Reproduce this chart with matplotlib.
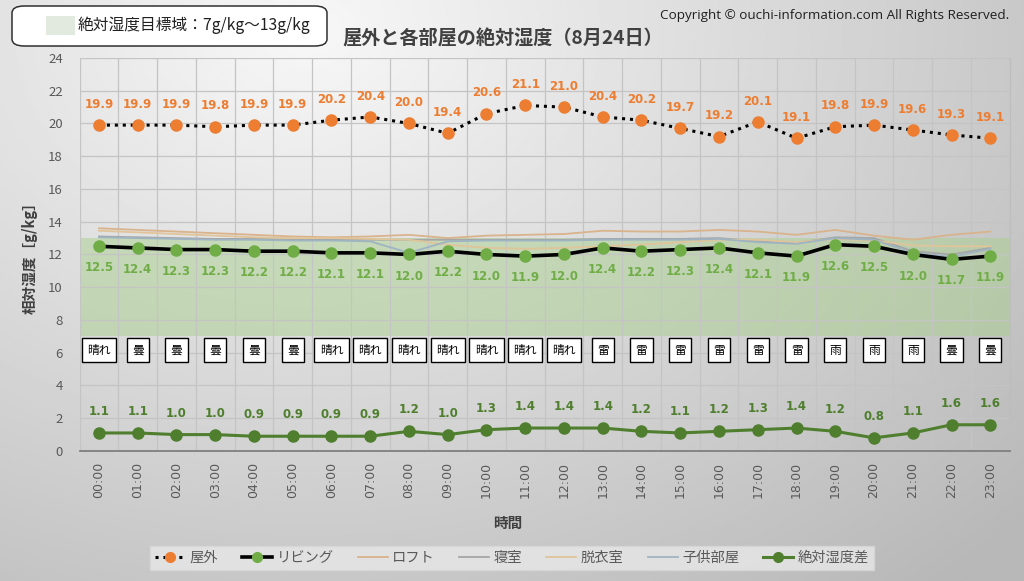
import matplotlib
matplotlib.use("Agg")
import matplotlib.pyplot as plt
from matplotlib.patches import FancyBboxPatch, Rectangle
from matplotlib.lines import Line2D
import numpy as np

plt.rcParams['font.family'] = ['Noto Sans CJK JP', 'DejaVu Sans']

# data
hours = ["%02d:00" % h for h in range(24)]
outdoor = [19.9, 19.9, 19.9, 19.8, 19.9, 19.9, 20.2, 20.4, 20.0, 19.4, 20.6, 21.1,
           21.0, 20.4, 20.2, 19.7, 19.2, 20.1, 19.1, 19.8, 19.9, 19.6, 19.3, 19.1]
living = [12.5, 12.4, 12.3, 12.3, 12.2, 12.2, 12.1, 12.1, 12.0, 12.2, 12.0, 11.9,
          12.0, 12.4, 12.2, 12.3, 12.4, 12.1, 11.9, 12.6, 12.5, 12.0, 11.7, 11.9]
loft = [13.6, 13.5, 13.4, 13.3, 13.2, 13.1, 13.05, 13.1, 13.2, 13.0, 13.15, 13.2,
        13.25, 13.45, 13.4, 13.4, 13.5, 13.4, 13.2, 13.5, 13.15, 12.9, 13.2, 13.4]
bedroom = [13.1, 13.05, 13.0, 12.95, 12.95, 12.9, 12.9, 12.9, 12.9, 12.9, 12.9, 12.9,
           12.9, 12.95, 12.95, 12.95, 13.0, 12.8, 12.7, 13.05, 13.0, 12.2, 12.0, 12.4]
dressing = [13.45, 13.35, 13.25, 13.15, 13.05, 13.0, 13.0, 12.95, 12.9, 12.6, 12.4, 12.35,
            12.4, 12.5, 12.6, 12.75, 12.9, 12.9, 12.75, 12.95, 12.85, 12.55, 12.5, 12.5]
kids = [13.05, 13.0, 12.95, 12.9, 12.9, 12.85, 12.85, 12.8, 12.1, 12.8, 12.85, 12.85,
        12.85, 12.9, 12.9, 12.9, 12.95, 12.75, 12.65, 13.0, 12.9, 12.1, 11.85, 12.35]
diff = [1.1, 1.1, 1.0, 1.0, 0.9, 0.9, 0.9, 0.9, 1.2, 1.0, 1.3, 1.4,
        1.4, 1.4, 1.2, 1.1, 1.2, 1.3, 1.4, 1.2, 0.8, 1.1, 1.6, 1.6]
weather = ["晴れ", "曇", "曇", "曇", "曇", "曇", "晴れ", "晴れ", "晴れ", "晴れ", "晴れ", "晴れ",
           "晴れ", "雷", "雷", "雷", "雷", "雷", "雷", "雨", "雨", "雨", "曇", "曇"]

ORANGE = '#ED7D31'
GREEN = '#70AD47'
DKGREEN = '#4F7F2E'
TAN = '#D9B38C'
TAN2 = '#E0C49A'
GRAY = '#A6A6A6'
BLUEGRAY = '#9FB4C2'

fig = plt.figure(figsize=(10.24, 5.81), dpi=100)

# gradient background
bg = fig.add_axes([0, 0, 1, 1], zorder=-10)
yy, xx = np.mgrid[0:1:300j, 0:1:500j]
r = np.sqrt(((xx - 0.3) * 1.2) ** 2 + ((yy - 0.05) * 0.9) ** 2)
shade = np.clip(0.97 - 0.22 * r, 0.72, 0.97)
bg.imshow(shade, cmap='gray', vmin=0, vmax=1, aspect='auto', extent=[0, 1, 1, 0])
bg.set_xlim(0, 1)
bg.set_ylim(1, 0)
bg.axis('off')

ax = fig.add_axes([0.0777, 0.2238, 0.9083, 0.6764])
ax.set_facecolor('none')
x = np.arange(len(hours))

ax.axhspan(7, 13, color='#A9D08E', alpha=0.5, lw=0, zorder=1)

ax.plot(x, loft, color=TAN, lw=1.3, zorder=2)
ax.plot(x, bedroom, color=GRAY, lw=1.3, zorder=2)
ax.plot(x, dressing, color=TAN2, lw=1.3, zorder=2)
ax.plot(x, kids, color=BLUEGRAY, lw=1.3, zorder=2)

ax.plot(x, outdoor, color='black', ls=(0, (1, 1.6)), lw=2.2, marker='o', ms=8,
        mfc=ORANGE, mec=ORANGE, zorder=4)
ax.plot(x, living, color='black', lw=2.6, marker='o', ms=8,
        mfc=GREEN, mec=GREEN, zorder=4)
ax.plot(x, diff, color=DKGREEN, lw=2.2, marker='o', ms=8,
        mfc=DKGREEN, mec=DKGREEN, zorder=4)

for i in x:
    ax.annotate(f"{outdoor[i]:.1f}", (i, outdoor[i]), xytext=(0, 15), textcoords='offset points',
                ha='center', va='center', color=ORANGE, fontsize=8.5, fontweight='bold',
                family='DejaVu Sans')
    ax.annotate(f"{living[i]:.1f}", (i, living[i]), xytext=(0, -15.5), textcoords='offset points',
                ha='center', va='center', color=GREEN, fontsize=8.5, fontweight='bold',
                family='DejaVu Sans')
    ax.annotate(f"{diff[i]:.1f}", (i, diff[i]), xytext=(0, 15.5), textcoords='offset points',
                ha='center', va='center', color=DKGREEN, fontsize=8.5, fontweight='bold',
                family='DejaVu Sans')
    ax.text(i, 6.15, weather[i], ha='center', va='center', fontsize=8.5, zorder=6,
            bbox=dict(boxstyle='square,pad=0.45', fc='white', ec='black', lw=1))

ax.set_xlim(-0.5, len(hours) - 0.5)
ax.set_ylim(0, 24)
ax.set_yticks(range(0, 25, 2))
ax.set_xticks(x)
ax.set_xticklabels(hours, rotation=90, family='DejaVu Sans')
ax.tick_params(axis='x', length=0, pad=8, labelsize=9, labelcolor='#595959')
ax.tick_params(axis='y', length=0, pad=12, labelsize=9.5, labelcolor='#595959')
ax.set_xticks(np.arange(-0.5, len(hours), 1), minor=True)
ax.tick_params(which='minor', length=0)
ax.grid(True, which='minor', axis='x', color='#C4C4C4', lw=0.9, zorder=0)
ax.grid(True, which='major', axis='y', color='#C4C4C4', lw=0.9, zorder=0)
for s in ['top', 'left']:
    ax.spines[s].set_visible(False)
ax.spines['right'].set_color('#BDBDBD')
ax.spines['bottom'].set_color('#7F7F7F')
ax.spines['bottom'].set_linewidth(1.3)

ax.set_ylabel('相対湿度［g/kg］', fontsize=10.5, fontweight='bold', color='#404040')
ax.yaxis.set_label_coords(-0.045, 0.5)
fig.text(0.496, 1 - 523 / 581, '時間', ha='center', va='center', fontsize=10.5,
         fontweight='bold', color='#404040')

fig.text(0.491, 1 - 39 / 581, '屋外と各部屋の絶対湿度（8月24日）', ha='center', va='center',
         fontsize=13.8, fontweight='bold', color='#404040')
fig.text(0.986, 1 - 15 / 581, 'Copyright © ouchi-information.com All Rights Reserved.',
         ha='right', va='center', fontsize=9.7, color='#202020', family='Open Sans')

# target band note, top left
fig.patches.append(FancyBboxPatch((12 / 1024, 1 - 46 / 581), 315 / 1024, 40 / 581,
                                  boxstyle='round,pad=0,rounding_size=0.012',
                                  transform=fig.transFigure, fc='white', ec='#303030', lw=1.1))
fig.patches.append(Rectangle((46 / 1024, 1 - 35 / 581), 29 / 1024, 19 / 581,
                             transform=fig.transFigure, fc='#E2E9DE', ec='none'))
fig.text(78 / 1024, 1 - 25 / 581, '絶対湿度目標域：7g/kg～13g/kg', ha='left', va='center',
         fontsize=11.3, color='#202020')

handles = [
    Line2D([], [], color='black', ls=(0, (1, 1.6)), lw=2.2, marker='o', ms=7, mfc=ORANGE, mec=ORANGE),
    Line2D([], [], color='black', lw=2.6, marker='o', ms=7, mfc=GREEN, mec=GREEN),
    Line2D([], [], color=TAN, lw=1.3),
    Line2D([], [], color=GRAY, lw=1.3),
    Line2D([], [], color=TAN2, lw=1.3),
    Line2D([], [], color=BLUEGRAY, lw=1.3),
    Line2D([], [], color=DKGREEN, lw=2.2, marker='o', ms=7, mfc=DKGREEN, mec=DKGREEN),
]
names = ['屋外', 'リビング', 'ロフト', '寝室', '脱衣室', '子供部屋', '絶対湿度差']
leg = fig.legend(handles, names, loc='center', bbox_to_anchor=(0.5, 1 - 558 / 581), ncol=7,
                 fontsize=10.3, frameon=True, fancybox=False, handlelength=2.1,
                 handletextpad=0.3, columnspacing=1.7, borderpad=0.35)
leg.get_frame().set_facecolor('#E8E8E8')
leg.get_frame().set_edgecolor('#D8D8D8')
for t in leg.get_texts():
    t.set_color('#595959')

fig.savefig('out.png', dpi=100)
